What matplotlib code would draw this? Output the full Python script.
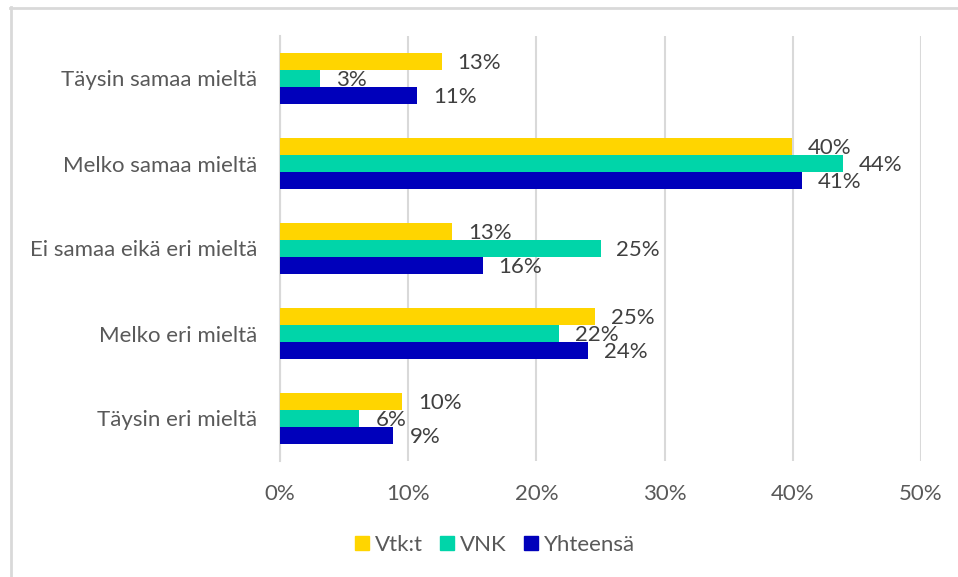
import matplotlib
matplotlib.use("Agg")
import matplotlib.pyplot as plt
from matplotlib.lines import Line2D
from matplotlib.patches import Patch
import numpy as np

plt.rcParams['font.family'] = ['Lato', 'DejaVu Sans']

categories = ["Täysin samaa mieltä", "Melko samaa mieltä", "Ei samaa eikä eri mieltä",
              "Melko eri mieltä", "Täysin eri mieltä"]
series_names = ["Vtk:t", "VNK", "Yhteensä"]
vtk = [12.6, 39.9, 13.4, 24.6, 9.5]
vnk = [3.1, 43.9, 25.0, 21.8, 6.2]
yht = [10.7, 40.7, 15.8, 24.0, 8.85]
x_ticks = [0, 10, 20, 30, 40, 50]

colors = ["#FFD500", "#00D5A9", "#0000BB"]
text_gray = "#595959"
label_gray = "#404040"
grid_gray = "#D9D9D9"
fs = 16

W, H = 958, 577
fig = plt.figure(figsize=(W / 100, H / 100), dpi=100)
ax = fig.add_axes([280 / W, 1 - 461 / H, (921 - 280) / W, (461 - 36) / H])

y = np.arange(len(categories))
bh = 0.2
for i, (vals, col) in enumerate(zip([vtk, vnk, yht], colors)):
    pos = y + (i - 1) * bh
    ax.barh(pos, vals, height=bh, color=col, zorder=3)
    for p, v in zip(pos, vals):
        ax.annotate(f"{round(v):.0f}%", (v, p), xytext=(11.5, -1), textcoords="offset points",
                    va="center", ha="left", fontsize=fs, color=label_gray, zorder=4)

ax.set_xlim(0, 50)
ax.set_ylim(len(categories) - 0.5, -0.5)
ax.set_xticks(x_ticks)
ax.set_xticklabels([f"{t}%" for t in x_ticks])
ax.set_yticks(y)
ax.set_yticklabels(categories)
ax.tick_params(axis="x", length=0, pad=16.5, labelsize=fs, labelcolor=text_gray)
ax.tick_params(axis="y", length=0, pad=16.5, labelsize=fs, labelcolor=text_gray)
ax.grid(axis="x", color=grid_gray, lw=1.5, zorder=0)
for s in ["top", "right", "bottom"]:
    ax.spines[s].set_visible(False)
ax.spines["left"].set_color(grid_gray)
ax.spines["left"].set_linewidth(1.5)

handles = [Patch(color=c, label=n) for c, n in zip(colors, series_names)]
leg = fig.legend(handles=handles, loc="center", bbox_to_anchor=(495 / W, 1 - 545 / H), ncol=3,
                 frameon=False, fontsize=fs, handlelength=0.63, handleheight=0.63,
                 handletextpad=0.25, columnspacing=0.8)
for t in leg.get_texts():
    t.set_color(text_gray)

# chart border (left and top edges visible)
fig.add_artist(Line2D([10.5 / W, 10.5 / W], [0, 1 - 7 / H], color=grid_gray, lw=2))
fig.add_artist(Line2D([10 / W, 1], [1 - 7.5 / H, 1 - 7.5 / H], color=grid_gray, lw=2))

fig.savefig("out.png", dpi=100)
